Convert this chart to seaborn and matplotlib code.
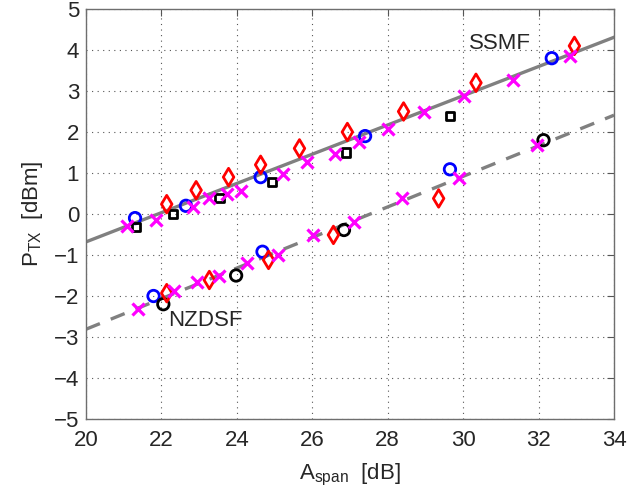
import matplotlib
matplotlib.use("Agg")
import matplotlib.pyplot as plt
import seaborn as sns
import pandas as pd

# ---- data ----
ssmf_circ_x = [21.3, 22.65, 24.63, 27.4, 32.35]
ssmf_circ_y = [-0.1, 0.2, 0.9, 1.9, 3.8]
ssmf_sq_x = [21.33, 22.3, 23.54, 24.93, 26.9, 29.65]
ssmf_sq_y = [-0.32, 0.0, 0.38, 0.79, 1.5, 2.4]
ssmf_dia_x = [22.14, 22.92, 23.78, 24.63, 25.66, 26.93, 28.42, 30.34, 32.95]
ssmf_dia_y = [0.24, 0.58, 0.9, 1.2, 1.6, 2.0, 2.5, 3.2, 4.1]
ssmf_x_x = [21.1, 21.86, 22.85, 23.25, 23.73, 24.1, 25.23, 25.85, 26.6, 27.25, 28.02, 28.95, 30.01, 31.32, 32.84]
ssmf_x_y = [-0.3, -0.14, 0.18, 0.38, 0.48, 0.57, 0.98, 1.27, 1.47, 1.76, 2.07, 2.48, 2.89, 3.27, 3.85]

nz_circ_x = [21.79, 24.68, 29.65]
nz_circ_y = [-2.0, -0.92, 1.09]
nz_blk_x = [22.05, 23.98, 26.84, 32.13]
nz_blk_y = [-2.2, -1.5, -0.39, 1.8]
nz_dia_x = [22.14, 23.27, 24.84, 26.56, 29.35]
nz_dia_y = [-1.93, -1.61, -1.12, -0.51, 0.38]
nz_x_x = [21.37, 22.34, 22.95, 23.53, 24.28, 25.08, 26.02, 27.11, 28.37, 29.89, 31.97]
nz_x_y = [-2.31, -1.89, -1.67, -1.5, -1.19, -1.01, -0.5, -0.19, 0.38, 0.87, 1.68]

fit_x = [20, 34]
ssmf_fit_y = [-0.68, 4.31]
nz_fit_y = [-2.81, 2.41]

x_ticks = [20, 22, 24, 26, 28, 30, 32, 34]
y_ticks = [-5, -4, -3, -2, -1, 0, 1, 2, 3, 4, 5]

sns.set_theme(style="white")
plt.rcParams['font.family'] = ['Liberation Sans', 'DejaVu Sans']
plt.rcParams['mathtext.fontset'] = 'custom'
plt.rcParams['mathtext.rm'] = 'Liberation Sans'
plt.rcParams['mathtext.it'] = 'Liberation Sans'

fig = plt.figure(figsize=(6.39, 4.91), dpi=100)
ax = fig.add_axes([0.1346, 0.1466, 0.9609 - 0.1346, 0.9817 - 0.1466])

gray = '#808080'
sns.lineplot(x=fit_x, y=ssmf_fit_y, ax=ax, color=gray, lw=2.4, zorder=2)
sns.lineplot(x=fit_x, y=nz_fit_y, ax=ax, color=gray, lw=2.4, zorder=2,
             dashes=False, linestyle=(0, (4.5, 3.5)))

mlw = 2.0
def circ(xs, ys, col):
    sns.scatterplot(x=xs, y=ys, ax=ax, marker='o', s=68, facecolors='none',
                    edgecolor=col, linewidth=mlw, zorder=3)

circ(ssmf_circ_x, ssmf_circ_y, '#0000ff')
circ(nz_circ_x, nz_circ_y, '#0000ff')
circ(nz_blk_x, nz_blk_y, '#000000')
sns.scatterplot(x=ssmf_sq_x, y=ssmf_sq_y, ax=ax, marker='s', s=34, facecolors='none',
                edgecolor='#000000', linewidth=mlw, zorder=3)
for xs, ys in [(ssmf_dia_x, ssmf_dia_y), (nz_dia_x, nz_dia_y)]:
    sns.scatterplot(x=xs, y=ys, ax=ax, marker='d', s=80, facecolors='none',
                    edgecolor='#ff0000', linewidth=mlw, zorder=3)
for xs, ys in [(ssmf_x_x, ssmf_x_y), (nz_x_x, nz_x_y)]:
    sns.scatterplot(x=xs, y=ys, ax=ax, marker='x', s=75, color='#ff00ff',
                    linewidth=2.3, zorder=3)

ax.set_xlim(20, 34)
ax.set_ylim(-5, 5)
ax.set_xticks(x_ticks)
ax.set_yticks(y_ticks)
ax.set_xticklabels([str(t) for t in x_ticks])
ax.set_yticklabels([str(t).replace('-', '\u2212') for t in y_ticks])
ax.grid(True, linestyle=(0, (1, 4)), color='#555555', lw=0.8)
ax.tick_params(axis='both', direction='in', length=5, width=0.8, color='#555555',
               top=True, right=True, labelsize=16)
ax.tick_params(axis='x', pad=8)
ax.tick_params(axis='y', pad=5)
for sp in ax.spines.values():
    sp.set_color('#6e6e6e')
    sp.set_linewidth(1.0)

ax.set_xlabel(r'A$_{\mathrm{span}}$  [dB]', fontsize=16, labelpad=8)
ax.set_ylabel(r'P$_{\mathrm{TX}}$  [dBm]', fontsize=16, labelpad=6)

ax.text(30.15, 4.15, 'SSMF', fontsize=16, va='center', ha='left')
ax.text(22.18, -2.59, 'NZDSF', fontsize=16, va='center', ha='left')

fig.savefig('out.png', dpi=100)
